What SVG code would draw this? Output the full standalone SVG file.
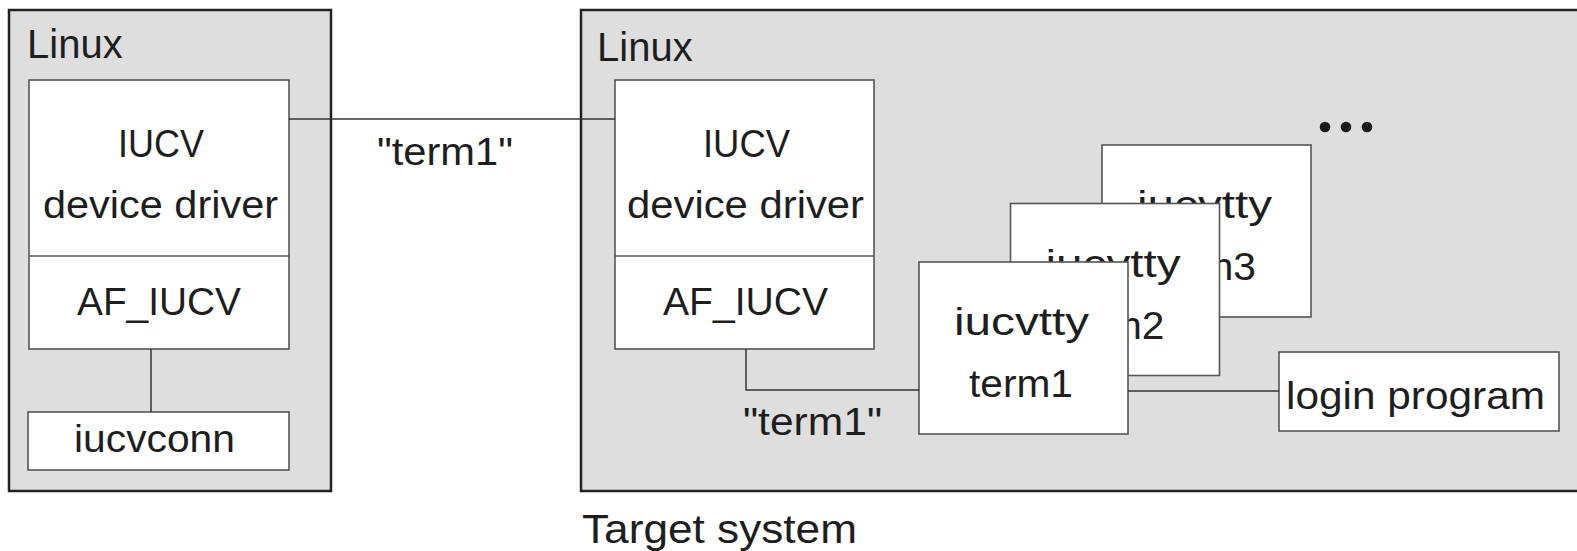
<svg xmlns="http://www.w3.org/2000/svg" width="1577" height="551" viewBox="0 0 1577 551">
  <style>
    .sys { fill: #dedede; stroke: #222; stroke-width: 2.5; }
    .box { fill: #fff; stroke: #555; stroke-width: 1.6; }
    .wire { fill: none; stroke: #333; stroke-width: 1.5; }
    text { font-family: "Liberation Sans", Arial, sans-serif; font-size: 38px; fill: #1e1e1e; }
    .title { font-size: 40px; }
  </style>
  <defs>
    <g id="tty-box">
      <rect class="box" x="0" y="0" width="209" height="172"/>
    </g>
  </defs>

  <rect width="1577" height="551" fill="#fff"/>

  <!-- Local Linux system -->
  <g id="local-linux">
    <rect class="sys" x="9" y="10" width="322" height="481"/>
    <text class="title" x="27" y="58">Linux</text>
  </g>
  <g id="local-driver">
    <rect class="box" x="29" y="80" width="260" height="269"/>
    <line class="box" x1="29" y1="256" x2="289" y2="256"/>
    <text x="118" y="157" textLength="86" lengthAdjust="spacingAndGlyphs">IUCV</text>
    <text x="43" y="218" textLength="235" lengthAdjust="spacingAndGlyphs">device driver</text>
    <text x="77" y="315" textLength="164" lengthAdjust="spacingAndGlyphs">AF_IUCV</text>
  </g>
  <g id="iucvconn">
    <rect class="box" x="28" y="412" width="261" height="58"/>
    <text x="74" y="452" textLength="161" lengthAdjust="spacingAndGlyphs">iucvconn</text>
  </g>

  <!-- Target Linux system -->
  <g id="target-linux">
    <rect class="sys" x="581" y="10" width="1000" height="481"/>
    <text class="title" x="597" y="61">Linux</text>
    <text class="title" x="582" y="543" textLength="275" lengthAdjust="spacingAndGlyphs">Target system</text>
  </g>
  <g id="target-driver">
    <rect class="box" x="615" y="80" width="259" height="269"/>
    <line class="box" x1="615" y1="256" x2="874" y2="256"/>
    <text x="703" y="157" textLength="87" lengthAdjust="spacingAndGlyphs">IUCV</text>
    <text x="627" y="218" textLength="237" lengthAdjust="spacingAndGlyphs">device driver</text>
    <text x="663" y="315" textLength="165" lengthAdjust="spacingAndGlyphs">AF_IUCV</text>
  </g>

  <!-- Terminal instances, back to front -->
  <g id="tty-term3" transform="translate(1102,145)">
    <use href="#tty-box"/>
    <text x="35" y="73" textLength="135" lengthAdjust="spacingAndGlyphs">iucvtty</text>
    <text x="50" y="135" textLength="104" lengthAdjust="spacingAndGlyphs">term3</text>
  </g>
  <g id="tty-term2" transform="translate(1010.5,203.5)">
    <use href="#tty-box"/>
    <text x="35" y="73" textLength="135" lengthAdjust="spacingAndGlyphs">iucvtty</text>
    <text x="50" y="135" textLength="104" lengthAdjust="spacingAndGlyphs">term2</text>
  </g>
  <g id="tty-term1" transform="translate(919,262)">
    <use href="#tty-box"/>
    <text x="35" y="73" textLength="135" lengthAdjust="spacingAndGlyphs">iucvtty</text>
    <text x="50" y="135" textLength="104" lengthAdjust="spacingAndGlyphs">term1</text>
  </g>

  <g id="more">
    <circle cx="1325" cy="127" r="5.3" fill="#1a1a1a"/>
    <circle cx="1346" cy="127" r="5.3" fill="#1a1a1a"/>
    <circle cx="1367" cy="127" r="5.3" fill="#1a1a1a"/>
  </g>

  <g id="login">
    <rect class="box" x="1279" y="352" width="280" height="79"/>
    <text x="1286" y="409" textLength="259" lengthAdjust="spacingAndGlyphs">login program</text>
  </g>

  <!-- Connections -->
  <g id="connectors">
    <line class="wire" x1="289" y1="119" x2="615" y2="119"/>
    <line class="wire" x1="151" y1="349" x2="151" y2="412"/>
    <polyline class="wire" points="746,349 746,390 919,390"/>
    <line class="wire" x1="1128" y1="391" x2="1279" y2="391"/>
    <text x="377" y="165" textLength="136" lengthAdjust="spacingAndGlyphs">"term1"</text>
    <text x="743" y="435" textLength="139" lengthAdjust="spacingAndGlyphs">"term1"</text>
  </g>
</svg>
